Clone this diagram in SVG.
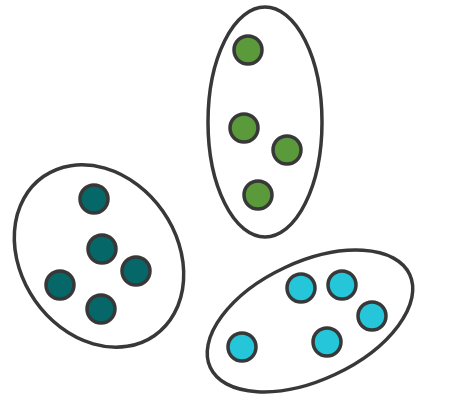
<svg xmlns="http://www.w3.org/2000/svg" width="449" height="418" viewBox="0 0 449 418">
<style>
.grp{fill:#fff;stroke:#383838;stroke-width:3.5}
.dot{stroke:#383838;stroke-width:3.5}
.teal{fill:#056768}
.green{fill:#5b9a3b}
.cyan{fill:#25c6da}
</style>
<rect width="449" height="418" fill="#fff"/>
<g id="cluster-teal">
<ellipse class="grp" cx="0" cy="0" rx="78" ry="97" transform="translate(99 256) rotate(-35)"/>
<circle class="dot teal" cx="94" cy="199" r="14"/>
<circle class="dot teal" cx="102" cy="249" r="14"/>
<circle class="dot teal" cx="136" cy="271" r="14"/>
<circle class="dot teal" cx="60" cy="285" r="14"/>
<circle class="dot teal" cx="101" cy="309" r="14"/>
</g>
<g id="cluster-green">
<ellipse class="grp" cx="265" cy="122" rx="57" ry="115"/>
<circle class="dot green" cx="248" cy="50" r="14"/>
<circle class="dot green" cx="244" cy="128" r="14"/>
<circle class="dot green" cx="287" cy="150" r="14"/>
<circle class="dot green" cx="258" cy="195" r="14"/>
</g>
<g id="cluster-cyan">
<ellipse class="grp" cx="0" cy="0" rx="110" ry="59" transform="translate(310 321) rotate(-25)"/>
<circle class="dot cyan" cx="301" cy="288" r="14"/>
<circle class="dot cyan" cx="342" cy="285" r="14"/>
<circle class="dot cyan" cx="372" cy="316" r="14"/>
<circle class="dot cyan" cx="327" cy="342" r="14"/>
<circle class="dot cyan" cx="242" cy="347" r="14"/>
</g>
<g id="connectors"/>
</svg>
